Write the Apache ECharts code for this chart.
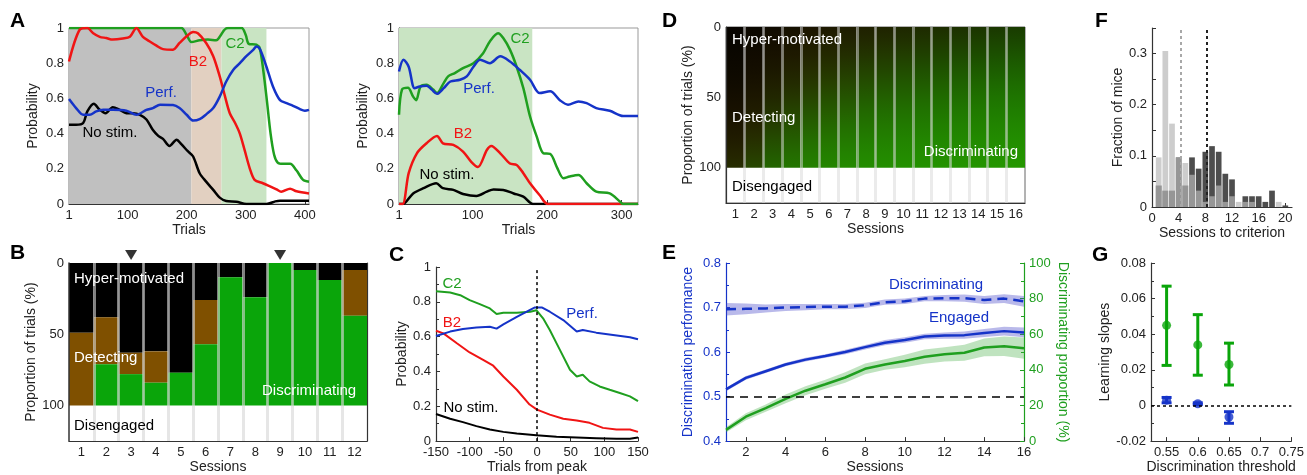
<!DOCTYPE html>
<html>
<head>
<meta charset="utf-8">
<script src="https://cdn.jsdelivr.net/npm/echarts/dist/echarts.min.js"></script>
<style>
  html, body { margin: 0; padding: 0; background: #fff; }
  #main { width: 1307px; height: 475px; }
</style>
</head>
<body>
<div id="main"></div>
<script>
// ---- data ----
// A, left example mouse: [trial, probability]
const aLeftNoStim = [[1,0.45],[13,0.45],[25,0.46],[32,0.526],[43,0.57],[53,0.535],[63,0.516],[75,0.55],[87,0.535],[98,0.516],[109,0.516],[121,0.507],[132,0.48],[143,0.42],[152,0.387],[160,0.37],[171,0.33],[183,0.365],[191,0.34],[202,0.30],[211,0.27],[222,0.175],[233,0.127],[245,0.08],[256,0.036],[267,0.017],[284,0.013],[301,0],[335,0],[350,0.015],[358,0.019],[407,0.019]]
const aLeftC2 = [[1,1],[100,1],[191,1],[200,0.96],[208,0.92],[222,0.93],[236,0.935],[250,0.93],[256,0.95],[264,0.99],[270,1],[293,1],[300,0.96],[305,0.91],[318,0.905],[324,0.88],[330,0.75],[336,0.58],[342,0.4],[348,0.28],[354,0.235],[363,0.228],[375,0.228],[386,0.19],[397,0.137],[407,0.127]]
const aLeftB2 = [[1,0.81],[19,0.99],[32,1.0],[42,0.97],[53,0.95],[64,0.943],[75,0.934],[92,0.94],[104,0.95],[115,1.0],[126,0.95],[137,0.925],[149,0.9],[160,0.88],[177,0.877],[188,0.915],[200,0.953],[211,0.977],[219,0.97],[233,0.915],[245,0.84],[256,0.725],[265,0.61],[273,0.516],[282,0.46],[290,0.40],[298,0.307],[307,0.2],[315,0.137],[329,0.118],[341,0.1],[352,0.083],[360,0.07],[375,0.087],[386,0.072],[407,0.06]]
const aLeftPerf = [[1,0.596],[13,0.545],[25,0.507],[36,0.507],[47,0.526],[59,0.535],[75,0.535],[98,0.53],[115,0.507],[132,0.535],[143,0.545],[155,0.564],[177,0.562],[188,0.545],[200,0.507],[211,0.474],[222,0.482],[234,0.512],[245,0.545],[256,0.61],[267,0.696],[279,0.763],[290,0.80],[301,0.84],[313,0.877],[318,0.895],[324,0.88],[335,0.78],[346,0.668],[358,0.59],[369,0.573],[380,0.558],[391,0.54],[400,0.53],[407,0.535]]
const aLeftPhases = [1, 208, 259, 335]   // hyper | detecting | discriminating boundaries

// A, right example mouse
const aRightC2 = [[1,0.507],[5,0.65],[13,0.66],[20,0.61],[24,0.59],[30,0.668],[38,0.677],[47,0.65],[52,0.63],[61,0.687],[67,0.725],[76,0.744],[87,0.772],[101,0.8],[114,0.857],[123,0.924],[134,0.97],[141,0.943],[150,0.877],[159,0.78],[168,0.658],[177,0.497],[186,0.383],[195,0.288],[204,0.285],[213,0.21],[222,0.146],[230,0.156],[242,0.165],[253,0.118],[266,0.07],[284,0.06],[298,0.013],[302,0],[322,0]]
const aRightPerf = [[1,0.753],[7,0.82],[14,0.78],[22,0.658],[29,0.668],[38,0.672],[45,0.65],[52,0.626],[61,0.658],[70,0.696],[83,0.706],[92,0.725],[101,0.78],[110,0.82],[123,0.8],[137,0.839],[150,0.81],[163,0.763],[177,0.706],[190,0.63],[204,0.64],[217,0.59],[228,0.564],[242,0.583],[253,0.573],[266,0.545],[284,0.53],[302,0.5],[322,0.5]]
const aRightB2 = [[1,0],[6,0],[14,0.175],[25,0.288],[38,0.345],[52,0.387],[60,0.345],[74,0.336],[87,0.298],[98,0.24],[107,0.21],[119,0.307],[125,0.33],[137,0.288],[150,0.23],[159,0.222],[168,0.175],[177,0.118],[190,0.05],[201,0],[322,0]]
const aRightNoStim = [[1,0],[6,0],[20,0.06],[34,0.09],[51,0.118],[60,0.09],[74,0.08],[87,0.057],[105,0.045],[119,0.07],[128,0.083],[141,0.08],[155,0.06],[168,0.042],[181,0],[322,0]]
const aRightPhases = [1, 180]

// B, sessions of one mouse (% of trials)
const sessionsB = ['1','2','3','4','5','6','7','8','9','10','11','12']
const hyperB = [49, 38, 63, 62, 77, 26, 10, 24, 0, 5, 12, 5]
const detectB = [51, 33, 15, 22, 0, 31, 0, 0, 0, 0, 0, 32]
const discB = [0, 29, 22, 16, 23, 43, 90, 76, 100, 95, 88, 63]
const arrowSessionsB = [3, 9]

// C, aligned to peak
const cC2 = [[-150,0.861],[-129,0.853],[-114,0.838],[-100,0.81],[-85,0.787],[-70,0.762],[-60,0.73],[-50,0.737],[-30,0.737],[-10,0.743],[-1,0.752],[9,0.705],[19,0.638],[34,0.524],[49,0.41],[59,0.371],[68,0.381],[78,0.343],[93,0.314],[108,0.295],[123,0.276],[138,0.257],[150,0.229]]
const cPerf = [[-150,0.604],[-129,0.629],[-110,0.644],[-90,0.653],[-70,0.657],[-60,0.646],[-50,0.67],[-30,0.714],[-11,0.752],[-3,0.768],[7,0.768],[19,0.743],[39,0.695],[59,0.629],[68,0.638],[88,0.623],[113,0.61],[138,0.597],[150,0.585]]
const cB2 = [[-150,0.634],[-139,0.619],[-119,0.562],[-100,0.509],[-80,0.467],[-65,0.433],[-50,0.371],[-30,0.295],[-11,0.21],[0,0.181],[19,0.152],[39,0.128],[59,0.118],[78,0.105],[98,0.076],[118,0.067],[138,0.067],[150,0.053]]
const cNoStim = [[-150,0.156],[-129,0.128],[-110,0.109],[-90,0.086],[-70,0.067],[-50,0.053],[-30,0.044],[-1,0.034],[29,0.025],[59,0.021],[88,0.017],[118,0.013],[138,0.013],[150,0.021]]

// D, population average: mean depth (%) where hyper-motivated ends / discriminating starts
const sessionsD = ['1','2','3','4','5','6','7','8','9','10','11','12','13','14','15','16']
const hyperEndD = [116, 95, 75, 60, 48, 42, 38, 34, 31, 28, 26, 24, 22, 20, 18, 16]
const discStartD = [112, 90, 62, 50, 40, 33, 27, 19, 14, 8, 3, -2, -7, -12, -18, -24]

// E
const sessionsE = [1,2,3,4,5,6,7,8,9,10,11,12,13,14,15,16]
const discMean = [0.696,0.697,0.698,0.700,0.701,0.702,0.702,0.705,0.712,0.714,0.720,0.721,0.721,0.717,0.720,0.714]
const discErr = [0.014,0.012,0.009,0.008,0.007,0.006,0.006,0.006,0.006,0.006,0.006,0.007,0.008,0.009,0.010,0.012]
const engMean = [0.516,0.542,0.557,0.572,0.583,0.591,0.600,0.611,0.621,0.627,0.635,0.637,0.638,0.643,0.647,0.644]
const engErr = [0.004,0.004,0.004,0.004,0.004,0.004,0.005,0.005,0.006,0.006,0.006,0.007,0.008,0.009,0.010,0.011]
const propMean = [6.3,13.7,18.5,23.7,28.3,31.9,35.7,40.6,43.0,45.0,47.4,48.7,49.6,52.6,53.3,52.2]
const propErr = [1.5,2,2,2.5,2.5,2.5,3,3,3,3.5,4,4,4.5,5,5.5,6]
const chanceE = 0.5

// F
const binsF = [1,2,3,4,5,6,7,8,9,10,11,12,13,14,15,16,17,18,19,20]
const lateF = [0.042,0.032,0.032,0.097,0.042,0.097,0.075,0.108,0.119,0.108,0.065,0.054,0,0.021,0.021,0.021,0.01,0.032,0,0.003]
const earlyF = [0.097,0.305,0.163,0.097,0.086,0.063,0.032,0.01,0.021,0.042,0.01,0.021,0.01,0.01,0.01,0,0,0,0.01,0]
const mediansF = [4.3, 8.2]

// G
const thresholdsG = [0.55, 0.6, 0.65]
const greenSlope = [0.045, 0.034, 0.023]
const greenLo = [0.0225, 0.017, 0.0115]
const greenHi = [0.067, 0.051, 0.035]
const blueSlope = [0.003, 0.001, -0.0065]
const blueLo = [0.0015, 0.0005, -0.010]
const blueHi = [0.0045, 0.0015, -0.0035]

// ---- styles ----
const FONT = 'Liberation Sans, Arial, sans-serif'
const BLUE = '#1533c8'
const RED = '#f01414'
const GREEN = '#1f9f1f'
const BGREEN = '#0aa50a'
const BROWN = '#7f5000'

function merge(a, b) {
  const out = Object.assign({}, a)
  for (const k in b) {
    if (b[k] && typeof b[k] === 'object' && !Array.isArray(b[k]) && a[k] && typeof a[k] === 'object') {
      out[k] = merge(a[k], b[k])
    } else {
      out[k] = b[k]
    }
  }
  return out
}

function axis(o, color) {
  const c = color || '#222'
  return merge({
    type: 'value',
    nameLocation: 'middle',
    nameTextStyle: { color: c, fontSize: 14, fontFamily: FONT },
    axisLine: { show: true, onZero: false, lineStyle: { color: color || '#333', width: 1.2 } },
    axisTick: { show: true, inside: true, length: 4, lineStyle: { color: color || '#333' } },
    minorTick: { show: false },
    axisLabel: { color: c, fontSize: 13, fontFamily: FONT, margin: 5 },
    splitLine: { show: false }
  }, o)
}

function line(data, color, xi, yi, extra) {
  return merge({
    type: 'line', data: data, xAxisIndex: xi, yAxisIndex: yi,
    showSymbol: false, symbol: 'none', z: 3,
    lineStyle: { color: color, width: 2.5 }, itemStyle: { color: color }
  }, extra || {})
}

function txt(x, y, s, color, size, align, bold) {
  return {
    type: 'text', x: x, y: y, z: 100,
    style: {
      text: s, fill: color, fontSize: size, fontFamily: FONT, fontWeight: bold ? 'bold' : 'normal',
      align: align || 'center', textAlign: align || 'center',
      verticalAlign: 'middle', textVerticalAlign: 'middle'
    }
  }
}

// D: colour at each depth from the session's mean boundaries (averaging blurs them)
function gradientD(i) {
  const K = [0, 0, 0], BR = [128, 80, 0], G = [40, 170, 0]
  const stops = []
  for (let y = 0; y <= 100; y += 10) {
    const pK = 1 / (1 + Math.exp((y - hyperEndD[i]) / 40))
    const g = 1 / (1 + Math.exp(-(y - discStartD[i]) / 22))
    const rest = 1 - pK
    const c = [0, 1, 2].map(j => Math.round(K[j] * pK + BR[j] * rest * (1 - g) + G[j] * rest * g))
    stops.push({ offset: y / 100, color: 'rgb(' + c.join(',') + ')' })
  }
  return new echarts.graphic.LinearGradient(0, 0, 0, 1, stops)
}

// E: shaded mean +/- error band drawn as one polygon
function band(mean, err, yi, color) {
  return {
    type: 'custom', xAxisIndex: 5, yAxisIndex: yi, z: 2, silent: true,
    data: sessionsE.map((s, i) => [s, mean[i] - err[i], mean[i] + err[i]]),
    encode: { x: 0, y: [1, 2] },
    renderItem: function (params, api) {
      if (params.dataIndex !== 0) return null
      const up = sessionsE.map((s, i) => api.coord([s, mean[i] + err[i]]))
      const lo = sessionsE.map((s, i) => api.coord([s, mean[i] - err[i]])).reverse()
      return { type: 'polygon', shape: { points: up.concat(lo) }, style: { fill: color } }
    }
  }
}

function errRender(params, api) {
  const x = api.value(0)
  const p1 = api.coord([x, api.value(1)])
  const p2 = api.coord([x, api.value(2)])
  const w = 5
  const style = { stroke: api.visual('color'), lineWidth: 3 }
  return {
    type: 'group', children: [
      { type: 'line', shape: { x1: p1[0], y1: p1[1], x2: p2[0], y2: p2[1] }, style: style },
      { type: 'line', shape: { x1: p1[0] - w, y1: p1[1], x2: p1[0] + w, y2: p1[1] }, style: style },
      { type: 'line', shape: { x1: p2[0] - w, y1: p2[1], x2: p2[0] + w, y2: p2[1] }, style: style }
    ]
  }
}

const chart = echarts.init(document.getElementById('main'), null, { renderer: 'canvas' })

const probAxis = { min: 0, max: 1, interval: 0.2, minorTick: { show: true, splitNumber: 2, length: 3 } }
const boxGrid = { show: true, borderColor: '#999', borderWidth: 1, backgroundColor: 'transparent' }

const option = {
  animation: false,
  backgroundColor: '#fff',
  textStyle: { fontFamily: FONT },
  grid: [
    merge(boxGrid, { left: 69, top: 28, width: 240, height: 176 }),   // A left
    merge(boxGrid, { left: 399, top: 28, width: 239, height: 176 }),  // A right
    { left: 69, top: 263, width: 298, height: 180 },                  // B
    { left: 436, top: 267, width: 202, height: 175 },                 // C
    merge(boxGrid, { left: 726, top: 27, width: 299, height: 176, borderColor: '#666' }), // D
    { left: 726, top: 263, width: 298, height: 180 },                 // E
    { left: 1152, top: 28, width: 140, height: 179 },                 // F
    { left: 1151, top: 263, width: 142, height: 179 }                 // G
  ],
  xAxis: [
    axis({ gridIndex: 0, min: 1, max: 407, name: 'Trials', nameGap: 17,
      axisLabel: { customValues: [1, 100, 200, 300, 400] }, axisTick: { customValues: [1, 100, 200, 300, 400] } }),
    axis({ gridIndex: 1, min: 1, max: 322, name: 'Trials', nameGap: 17,
      axisLabel: { customValues: [1, 100, 200, 300] }, axisTick: { customValues: [1, 100, 200, 300] } }),
    axis({ gridIndex: 2, type: 'category', data: sessionsB, name: 'Sessions', nameGap: 18, z: 5,
      axisTick: { show: false }, axisLabel: { interval: 0 },
      splitLine: { show: true, interval: 0, showMinLine: false, showMaxLine: false,
        lineStyle: { color: 'rgba(213,213,213,0.6)', width: 3 } } }),
    axis({ gridIndex: 3, min: -150, max: 150, interval: 50, name: 'Trials from peak', nameGap: 18 }),
    axis({ gridIndex: 4, type: 'category', data: sessionsD, name: 'Sessions', nameGap: 19, z: 5,
      axisTick: { show: false }, axisLabel: { interval: 0 },
      splitLine: { show: true, interval: 0, showMinLine: false, showMaxLine: false,
        lineStyle: { color: 'rgba(216,216,216,0.5)', width: 3 } } }),
    axis({ gridIndex: 5, min: 1, max: 16, name: 'Sessions', nameGap: 16,
      axisLabel: { customValues: [2, 4, 6, 8, 10, 12, 14, 16] }, axisTick: { customValues: [2, 4, 6, 8, 10, 12, 14, 16] } }),
    axis({ gridIndex: 6, min: 0, max: 21, name: 'Sessions to criterion', nameGap: 16,
      axisLabel: { customValues: [0, 4, 8, 12, 16, 20] }, axisTick: { customValues: [0, 4, 8, 12, 16, 20] } }),
    axis({ gridIndex: 7, min: 0.525, max: 0.75, name: 'Discrimination threshold', nameGap: 16,
      axisLabel: { customValues: [0.55, 0.6, 0.65, 0.7, 0.75] }, axisTick: { customValues: [0.55, 0.6, 0.65, 0.7, 0.75] } })
  ],
  yAxis: [
    axis(merge(probAxis, { gridIndex: 0, name: 'Probability', nameGap: 29 })),
    axis(merge(probAxis, { gridIndex: 1, name: 'Probability', nameGap: 29 })),
    axis({ gridIndex: 2, inverse: true, min: 0, max: 125, name: 'Proportion of trials (%)', nameGap: 30, z: 6,
      axisLine: { lineStyle: { width: 1.5 } },
      axisLabel: { customValues: [0, 50, 100] }, axisTick: { show: false } }),
    axis(merge(probAxis, { gridIndex: 3, name: 'Probability', nameGap: 24 })),
    axis({ gridIndex: 4, inverse: true, min: 0, max: 125, name: 'Proportion of trials (%)', nameGap: 29, z: 6,
      axisLabel: { customValues: [0, 50, 100] }, axisTick: { show: false } }),
    axis({ gridIndex: 5, min: 0.4, max: 0.8, interval: 0.1, name: 'Discrimination performance', nameGap: 31,
      minorTick: { show: true, splitNumber: 2, length: 3 } }, BLUE),
    axis({ gridIndex: 5, position: 'right', min: 0, max: 100, interval: 20, name: 'Discriminating proportion (%)',
      nameGap: 32, nameRotate: -90, minorTick: { show: true, splitNumber: 2, length: 3 } }, GREEN),
    axis({ gridIndex: 6, min: 0, max: 0.35, name: 'Fraction of mice', nameGap: 25,
      axisLabel: { customValues: [0, 0.1, 0.2, 0.3] },
      axisTick: { customValues: [0, 0.05, 0.1, 0.15, 0.2, 0.25, 0.3, 0.35] } }),
    axis({ gridIndex: 7, min: -0.02, max: 0.08, interval: 0.02, name: 'Learning slopes', nameGap: 31,
      axisLabel: { formatter: v => String(+v.toFixed(2)) },
      minorTick: { show: true, splitNumber: 2, length: 3 } }),
    axis({ gridIndex: 2, position: 'right', min: 0, max: 125, inverse: true,
      axisLine: { lineStyle: { color: '#333' } }, axisTick: { show: false }, axisLabel: { show: false } })
  ],
  series: [
    // A left
    { type: 'line', xAxisIndex: 0, yAxisIndex: 0, data: [], z: 1,
      markArea: { silent: true, data: [
        [{ xAxis: aLeftPhases[0], itemStyle: { color: '#c0c0c0' } }, { xAxis: aLeftPhases[1] }],
        [{ xAxis: aLeftPhases[1], itemStyle: { color: '#e2d0c1' } }, { xAxis: aLeftPhases[2] }],
        [{ xAxis: aLeftPhases[2], itemStyle: { color: '#c9e4c3' } }, { xAxis: aLeftPhases[3] }]
      ] } },
    line(aLeftNoStim, '#000', 0, 0, { smooth: 0.3 }),
    line(aLeftC2, GREEN, 0, 0, { smooth: 0.3 }),
    line(aLeftB2, RED, 0, 0, { smooth: 0.3 }),
    line(aLeftPerf, BLUE, 0, 0, { smooth: 0.3 }),
    // A right
    { type: 'line', xAxisIndex: 1, yAxisIndex: 1, data: [], z: 1,
      markArea: { silent: true, data: [
        [{ xAxis: aRightPhases[0], itemStyle: { color: '#c9e4c3' } }, { xAxis: aRightPhases[1] }]
      ] } },
    line(aRightNoStim, '#000', 1, 1, { smooth: 0.3 }),
    line(aRightB2, RED, 1, 1, { smooth: 0.3 }),
    line(aRightC2, GREEN, 1, 1, { smooth: 0.3 }),
    line(aRightPerf, BLUE, 1, 1, { smooth: 0.3 }),
    // B
    { type: 'bar', xAxisIndex: 2, yAxisIndex: 2, stack: 'b', data: hyperB, barCategoryGap: '0%', itemStyle: { color: '#000' } },
    { type: 'bar', xAxisIndex: 2, yAxisIndex: 2, stack: 'b', data: detectB, barCategoryGap: '0%', itemStyle: { color: BROWN } },
    { type: 'bar', xAxisIndex: 2, yAxisIndex: 2, stack: 'b', data: discB, barCategoryGap: '0%', itemStyle: { color: BGREEN } },
    { type: 'scatter', xAxisIndex: 2, yAxisIndex: 2, clip: false, symbol: 'triangle', symbolRotate: 180,
      symbolSize: [12, 10], itemStyle: { color: '#000' },
      data: arrowSessionsB.map(s => [s - 1, -5.6]) },
    // C
    line(cNoStim, '#000', 3, 3, { lineStyle: { width: 2 } }),
    line(cB2, RED, 3, 3, { lineStyle: { width: 2 } }),
    line(cC2, GREEN, 3, 3, { lineStyle: { width: 2 } }),
    line(cPerf, BLUE, 3, 3, { lineStyle: { width: 2 },
      markLine: { silent: true, symbol: 'none', label: { show: false },
        lineStyle: { color: '#000', type: [3, 3], width: 1.5 }, data: [{ xAxis: 0 }] } }),
    // D
    { type: 'bar', xAxisIndex: 4, yAxisIndex: 4, barCategoryGap: '0%',
      data: sessionsD.map((s, i) => ({ value: 100, itemStyle: { color: gradientD(i) } })) },
    // E bands
    band(discMean, discErr, 5, 'rgba(70,70,200,0.38)'),
    band(engMean, engErr, 5, 'rgba(70,70,200,0.38)'),
    band(propMean, propErr, 6, 'rgba(60,170,60,0.33)'),
    // E means
    line(sessionsE.map((s, i) => [s, discMean[i]]), BLUE, 5, 5, { lineStyle: { type: [10, 6] } }),
    line(sessionsE.map((s, i) => [s, engMean[i]]), BLUE, 5, 5, {
      markLine: { silent: true, symbol: 'none', label: { show: false },
        lineStyle: { color: '#000', type: [8, 6], width: 1.5 }, data: [{ yAxis: chanceE }] } }),
    line(sessionsE.map((s, i) => [s, propMean[i]]), GREEN, 5, 6),
    // F
    { type: 'bar', xAxisIndex: 6, yAxisIndex: 7, barWidth: 5.7, barGap: '-100%',
      data: binsF.map((b, i) => [b, lateF[i]]), itemStyle: { color: '#4d4d4d' } },
    { type: 'bar', xAxisIndex: 6, yAxisIndex: 7, barWidth: 5.7, barGap: '-100%',
      data: binsF.map((b, i) => [b, earlyF[i]]), itemStyle: { color: 'rgba(182,182,182,0.69)' } },
    { type: 'line', xAxisIndex: 6, yAxisIndex: 7, data: [], z: 6,
      markLine: { silent: true, symbol: 'none', label: { show: false }, data: [
        { xAxis: mediansF[0], lineStyle: { color: '#a8a8a8', type: [3, 3], width: 2 } },
        { xAxis: mediansF[1], lineStyle: { color: '#222', type: [3, 3], width: 2 } }
      ] } },
    // G
    { type: 'line', xAxisIndex: 7, yAxisIndex: 8, data: [], z: 1,
      markLine: { silent: true, symbol: 'none', label: { show: false },
        lineStyle: { color: '#000', type: [3, 3], width: 1.5 }, data: [{ yAxis: 0 }] } },
    { type: 'custom', xAxisIndex: 7, yAxisIndex: 8, renderItem: errRender, itemStyle: { color: BGREEN },
      encode: { x: 0, y: [1, 2] }, data: thresholdsG.map((t, i) => [t, greenLo[i], greenHi[i]]) },
    { type: 'custom', xAxisIndex: 7, yAxisIndex: 8, renderItem: errRender, itemStyle: { color: BLUE },
      encode: { x: 0, y: [1, 2] }, data: thresholdsG.map((t, i) => [t, blueLo[i], blueHi[i]]) },
    { type: 'scatter', xAxisIndex: 7, yAxisIndex: 8, symbolSize: 9, itemStyle: { color: BGREEN }, z: 4,
      data: thresholdsG.map((t, i) => [t, greenSlope[i]]) },
    { type: 'scatter', xAxisIndex: 7, yAxisIndex: 8, symbolSize: 9, itemStyle: { color: BLUE }, z: 4,
      data: thresholdsG.map((t, i) => [t, blueSlope[i]]) }
  ],
  graphic: [
    txt(10, 21, 'A', '#000', 21, 'left', true),
    txt(10, 253, 'B', '#000', 21, 'left', true),
    txt(389, 255, 'C', '#000', 21, 'left', true),
    txt(662, 21, 'D', '#000', 21, 'left', true),
    txt(662, 253, 'E', '#000', 21, 'left', true),
    txt(1095, 21, 'F', '#000', 21, 'left', true),
    txt(1092, 255, 'G', '#000', 21, 'left', true),
    // A labels
    txt(235, 44, 'C2', GREEN, 15),
    txt(198, 62, 'B2', RED, 15),
    txt(161, 93, 'Perf.', BLUE, 15),
    txt(110, 133, 'No stim.', '#000', 15),
    txt(520, 39, 'C2', GREEN, 15),
    txt(479, 89, 'Perf.', BLUE, 15),
    txt(463, 134, 'B2', RED, 15),
    txt(447, 175, 'No stim.', '#000', 15),
    // B labels
    txt(74, 279, 'Hyper-motivated', '#fff', 15, 'left'),
    txt(74, 358, 'Detecting', '#fff', 15, 'left'),
    txt(262, 391, 'Discriminating', '#fff', 15, 'left'),
    txt(74, 426, 'Disengaged', '#000', 15, 'left'),
    // C labels
    txt(452, 284, 'C2', GREEN, 15),
    txt(452, 323, 'B2', RED, 15),
    txt(582, 314, 'Perf.', BLUE, 15),
    txt(471, 408, 'No stim.', '#000', 15),
    // D labels
    txt(732, 40, 'Hyper-motivated', '#fff', 15, 'left'),
    txt(732, 118, 'Detecting', '#fff', 15, 'left'),
    txt(1018, 152, 'Discriminating', '#fff', 15, 'right'),
    txt(732, 187, 'Disengaged', '#000', 15, 'left'),
    // E labels
    txt(936, 285, 'Discriminating', BLUE, 15),
    txt(959, 318, 'Engaged', BLUE, 15)
  ]
}

chart.setOption(option)
</script>
</body>
</html>
